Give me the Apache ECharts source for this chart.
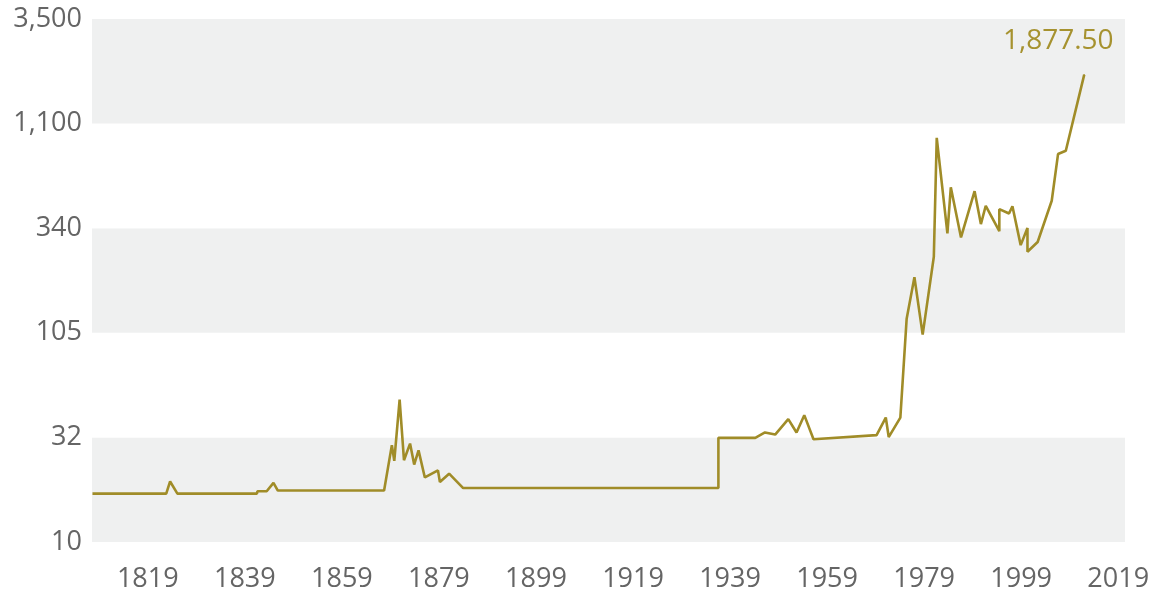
<!DOCTYPE html>
<html>
<head>
<meta charset="utf-8">
<script src="https://cdn.jsdelivr.net/npm/echarts@6/dist/echarts.min.js"></script>
<style>
  html, body { margin: 0; padding: 0; background: #fff; }
  #chart { width: 1155px; height: 598px; }
</style>
</head>
<body>
<div id="chart"></div>
<script>
// data
var years = [
    1807.6, 1822.8, 1823.6, 1825.1, 1841.5, 1841.6, 1843.5, 1844.9, 1845.8, 1867.7,
    1869.3, 1869.8, 1870.9, 1871.8, 1873.05, 1873.9, 1874.8, 1876.1, 1878.8, 1879.2,
    1881.1, 1884.0, 1936.6, 1936.6, 1944.2, 1946.2, 1948.3, 1951.0, 1952.7, 1954.3,
    1956.2, 1969.2, 1971.1, 1971.7, 1974.1, 1975.4, 1977.0, 1978.7, 1981.0, 1981.6,
    1983.8, 1984.5, 1986.6, 1989.4, 1990.7, 1991.7, 1994.5, 1994.5, 1996.5, 1997.2,
    1998.9, 2000.3, 2000.3, 2002.4, 2005.3, 2006.6, 2008.2, 2012.0
];
var prices = [
    17.2, 17.2, 19.7, 17.2, 17.2, 17.65, 17.65, 19.4, 17.8, 17.8,
    29.6, 24.8, 49.3, 25.0, 30.1, 23.8, 27.9, 20.6, 22.3, 19.6,
    21.5, 18.3, 18.3, 32.1, 32.1, 34.1, 33.3, 39.6, 34.1, 41.4,
    31.6, 33.1, 40.3, 32.4, 40.3, 122, 194, 102, 244, 925,
    317, 531, 303, 509, 352, 432, 325, 416, 396, 430,
    278, 337, 258, 288, 457, 771, 800, 1877.5
];
var yLabels = ['10', '32', '105', '340', '1,100', '3,500'];
var xLabels = [1819, 1839, 1859, 1879, 1899, 1919, 1939, 1959, 1979, 1999, 2019];

var yLow = 10, yHigh = 3500;
var steps = yLabels.length - 1;

// log-like transform so the 6 ticks sit evenly spaced
function toAxis(v) {
    return steps * Math.log(v / yLow) / Math.log(yHigh / yLow);
}

var lineColor = '#a08c28';
var seriesData = [];
for (var i = 0; i < years.length; i++) {
    var item = { value: [years[i], toAxis(prices[i])] };
    if (i == years.length - 1) {
        // only the last point keeps a (tiny) symbol so its label is drawn
        item.symbol = 'circle';
        item.symbolSize = 1;
        item.label = {
            show: true,
            position: 'top',
            offset: [-26, -14],
            color: '#a6922f',
            fontFamily: 'Open Sans',
            fontSize: 28,
            formatter: echarts.format.addCommas(prices[i].toFixed(2))
        };
    }
    seriesData.push(item);
}

var chart = echarts.init(document.getElementById('chart'));
var option = {
    animation: false,
    grid: {
        left: 92,
        right: 30,
        top: 19,
        bottom: 56
    },
    xAxis: {
        type: 'value',
        min: 1807.5,
        max: 2020.4,
        axisLine: { show: false },
        axisTick: { show: false },
        splitLine: { show: false },
        axisLabel: {
            customValues: xLabels,
            margin: 24,
            color: '#656565',
            fontFamily: 'Open Sans',
            fontSize: 27,
            formatter: function (v) {
                return String(v);
            }
        }
    },
    yAxis: {
        type: 'value',
        min: 0,
        max: steps,
        interval: 1,
        axisLine: { show: false },
        axisTick: { show: false },
        splitLine: { show: false },
        splitArea: {
            show: true,
            areaStyle: { color: ['#eff0f0', '#ffffff'] }
        },
        axisLabel: {
            margin: 10,
            color: '#656565',
            fontFamily: 'Open Sans',
            fontSize: 27,
            formatter: function (v) {
                return yLabels[Math.round(v)];
            }
        }
    },
    series: [
        {
            type: 'line',
            showSymbol: true,
            symbol: 'none',
            itemStyle: { color: lineColor },
            lineStyle: { color: lineColor, width: 2.6 },
            data: seriesData
        }
    ]
};
chart.setOption(option);
</script>
</body>
</html>
